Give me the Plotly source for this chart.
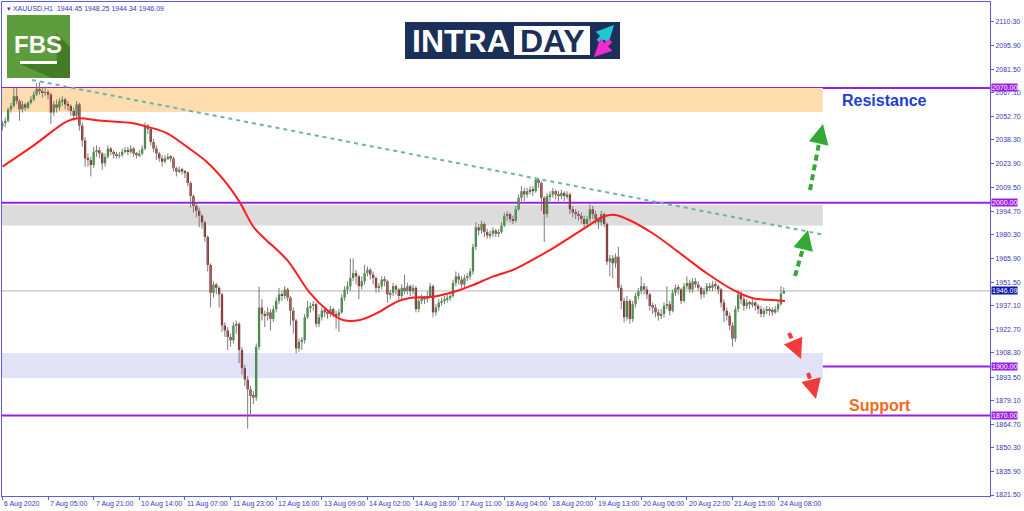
import plotly.graph_objects as go

# hourly XAUUSD candles (bar index 0 = 6 Aug 13:00)
first_open = 2046.5
closes = [
    2048.5, 2050, 2057, 2059, 2065, 2062, 2057, 2060, 2058, 2061,
    2063, 2066, 2069.5, 2068, 2067, 2067.5, 2066, 2055, 2060, 2058,
    2062, 2063, 2060, 2059, 2056, 2053, 2060, 2047, 2038, 2027,
    2026, 2023, 2031, 2032, 2030, 2024, 2028, 2033, 2031, 2029.5,
    2028.5, 2029, 2031, 2032, 2031, 2033, 2030, 2029, 2030, 2033,
    2047, 2045, 2037, 2033, 2030, 2027, 2025, 2027, 2028, 2027,
    2021, 2019, 2020, 2019, 2018.5, 2012, 2004, 1998, 1995, 1992,
    1988, 1979, 1962, 1945, 1950, 1948, 1944, 1925, 1922, 1918,
    1916, 1925, 1926, 1910, 1899, 1892, 1886, 1882, 1881, 1912,
    1936, 1932, 1931, 1933, 1929, 1935, 1940, 1944, 1943, 1947,
    1942, 1934, 1928, 1911, 1915, 1916, 1930, 1936, 1937, 1938,
    1926, 1930, 1934, 1933, 1932, 1935, 1932, 1931, 1933, 1942,
    1947, 1949, 1954, 1957, 1955, 1949, 1952, 1957, 1959, 1956,
    1954, 1948, 1949, 1953, 1952, 1944, 1945, 1949, 1947, 1943,
    1948, 1946, 1949, 1946, 1948, 1935, 1940, 1942, 1941, 1943,
    1949, 1933, 1936, 1939, 1940, 1941, 1942, 1943, 1951, 1955,
    1953, 1950, 1954, 1955, 1958, 1973, 1985, 1983, 1987, 1982,
    1980, 1981, 1983, 1981, 1982, 1986, 1992, 1993, 1990, 1989,
    1996, 2003, 2007, 2005, 2007, 2008, 2007, 2014, 2012, 2003,
    1993, 2004, 2005, 2007, 2005, 2004, 2006, 2004, 2005, 1996,
    1994, 1993, 1992, 1990, 1987, 1990, 1996, 1993, 1990, 1988,
    1993, 1987, 1964, 1966, 1963, 1967, 1948, 1940, 1930, 1940,
    1929, 1938, 1943, 1946, 1949, 1947, 1944, 1937, 1936, 1933,
    1931, 1932, 1937, 1938, 1934, 1945, 1948, 1947, 1940, 1949,
    1951, 1947, 1952, 1950, 1948, 1944, 1946, 1949, 1948, 1950,
    1949, 1947, 1939, 1934, 1931, 1925, 1917, 1935, 1944, 1941,
    1937, 1939, 1938, 1939, 1937, 1935, 1932, 1934, 1935, 1934,
    1933, 1935, 1938, 1944.45, 1946.09,
]
highs = [
    2050, 2052, 2058, 2061, 2070, 2070, 2063, 2062, 2061, 2062,
    2065, 2068, 2073, 2073.5, 2070, 2071, 2069, 2067, 2062, 2063,
    2064, 2065, 2064, 2062, 2060, 2058, 2062, 2061, 2049, 2040,
    2030, 2028, 2034, 2035, 2034, 2031, 2030, 2035, 2034, 2032,
    2031, 2031, 2033, 2034, 2034, 2035, 2034, 2031, 2032, 2035,
    2049, 2048, 2046, 2039, 2035, 2031, 2029, 2029, 2030, 2029,
    2028, 2022, 2022, 2021, 2020, 2019, 2013, 2005, 2000, 1997,
    1993, 1989, 1980, 1963, 1952, 1951, 1949, 1945, 1927, 1924,
    1920, 1927, 1928, 1927, 1912, 1901, 1894, 1888, 1885, 1914,
    1948.7, 1941, 1934, 1936, 1935, 1937, 1942, 1948, 1946, 1949,
    1948, 1943, 1936, 1929, 1917, 1918, 1932, 1940, 1939, 1940,
    1939, 1932, 1936, 1936, 1935, 1937, 1936, 1934, 1935, 1944,
    1949, 1952, 1966, 1966, 1959, 1956, 1955, 1962, 1961, 1960,
    1958, 1955, 1951, 1955, 1955, 1953, 1947, 1951, 1950, 1948,
    1950, 1956, 1951, 1950, 1950, 1949, 1942, 1944, 1943, 1946,
    1951, 1950, 1938, 1941, 1942, 1943, 1944, 1945, 1953, 1958,
    1957, 1955, 1956, 1957, 1960, 1975, 1988, 1987, 1989, 1988,
    1984, 1983, 1985, 1984, 1984, 1988, 1994, 1995, 1994, 1992,
    1998, 2005, 2010, 2009, 2009, 2010, 2010, 2015.5, 2015, 2013,
    2004, 2006, 2007, 2009, 2008, 2007, 2008, 2007, 2007, 2006,
    1998, 1996, 1995, 1994, 1992, 1992, 1999, 1998, 1995, 1991,
    1995, 1994, 1988, 1968, 1968, 1969, 1973, 1950, 1942, 1943,
    1941, 1940, 1945, 1948, 1955, 1951, 1949, 1945, 1939, 1938,
    1935, 1935, 1939, 1949, 1940, 1947, 1950, 1950, 1948, 1951,
    1955, 1953, 1954, 1954, 1952, 1949, 1948, 1951, 1951, 1952,
    1952, 1950, 1948, 1941, 1936, 1933, 1927, 1937, 1947, 1946,
    1943, 1941, 1940, 1941, 1940, 1938, 1937, 1936, 1937, 1936,
    1936, 1937, 1940, 1949, 1948.25,
]
lows = [
    2044, 2046, 2049, 2055, 2058, 2060, 2050, 2055, 2056, 2057,
    2060, 2062, 2065, 2066, 2064, 2065, 2063, 2048, 2053, 2055,
    2056, 2059, 2057, 2056, 2053, 2050, 2051, 2044, 2034, 2022,
    2022, 2016, 2021, 2028, 2027, 2020, 2022, 2027, 2029, 2027,
    2027, 2027, 2028, 2030, 2029, 2030, 2028, 2027, 2028, 2029,
    2032, 2042, 2035, 2031, 2026, 2025, 2022, 2024, 2026, 2025,
    2019, 2016, 2018, 2017, 2015, 2010, 1997, 1994, 1991, 1985,
    1984, 1976, 1958, 1936, 1942, 1944, 1936, 1921, 1918, 1910,
    1912, 1914, 1920, 1902, 1895, 1888, 1862, 1870, 1877, 1879,
    1910, 1928, 1924, 1928, 1922, 1927, 1933, 1938, 1940, 1941,
    1940, 1925, 1920, 1908, 1909, 1910, 1914, 1929, 1933, 1934,
    1924, 1924, 1928, 1930, 1929, 1930, 1930, 1923, 1921, 1932,
    1940, 1944, 1946, 1952, 1950, 1941, 1947, 1950, 1955, 1953,
    1950, 1945, 1945, 1947, 1949, 1939, 1941, 1943, 1944, 1940,
    1941, 1944, 1944, 1943, 1944, 1933, 1933, 1938, 1938, 1939,
    1942, 1930, 1931, 1934, 1937, 1938, 1939, 1940, 1942, 1949,
    1950, 1948, 1948, 1952, 1953, 1956, 1971, 1980, 1981, 1979,
    1978, 1978, 1979, 1979, 1979, 1981, 1985, 1989, 1988, 1987,
    1988, 1995, 2001, 2001, 2003, 2005, 2004, 2006, 2009, 1995,
    1976, 1991, 2001, 2003, 2002, 2001, 2002, 2001, 2002, 1993,
    1991, 1990, 1989, 1987, 1984, 1985, 1988, 1990, 1987, 1984,
    1986, 1985, 1962, 1955, 1954, 1960, 1946, 1935, 1927, 1928,
    1926, 1927, 1936, 1941, 1944, 1944, 1941, 1934, 1932, 1930,
    1928, 1929, 1930, 1935, 1931, 1933, 1943, 1944, 1938, 1939,
    1947, 1945, 1945, 1948, 1946, 1941, 1942, 1944, 1946, 1946,
    1947, 1944, 1936, 1927, 1928, 1922, 1912, 1915, 1933, 1938,
    1934, 1935, 1935, 1936, 1934, 1932, 1930, 1930, 1932, 1931,
    1931, 1932, 1933, 1937, 1944.34,
]

# red moving average, read at sample bars
ma_x = [0, 11, 22.5, 26.6, 34.2, 45.9, 50.6, 57.6, 64.6, 71.6, 78.6, 83.3, 88,
        92, 99.8, 107.9, 113.8, 119.4, 125.4, 131.3, 138.4, 142.9, 151, 160.4,
        165, 172, 179, 181.5, 193, 205, 210.6, 214.8, 219, 228, 237.6, 247,
        256.2, 263.2, 270.2, 274.4]
ma_y = [2022, 2035, 2049.5, 2051.5, 2050.1, 2048.5, 2046.4, 2042.5, 2034.2, 2025,
        2011.8, 2000, 1985.3, 1978, 1965, 1944.7, 1934.5, 1928.4, 1928.4,
        1932.5, 1939.6, 1941.8, 1942.6, 1946.7, 1949.7, 1954.8, 1958.9, 1961,
        1972.1, 1985.4, 1991.4, 1992.5, 1990, 1981.3, 1969.1, 1956.9, 1946.7,
        1941.6, 1940.6, 1940]

trend_x = [10.4, 288.4]
trend_y = [2074.9, 1980.3]

levels = [2070.00, 2000.00, 1900.00, 1870.00]
last_price = 1946.09
zones = [(2055.4, 2070.0, "#fddcae"), (1986.0, 1998.6, "#dcdcdc"), (1893.0, 1908.2, "#e3e3f7")]
zone_end = 287.7

ytick_vals = [2110.30, 2095.90, 2081.50, 2067.10, 2052.70, 2038.30, 2023.90, 2009.50,
              1994.70, 1980.30, 1965.90, 1951.50, 1937.10, 1922.70, 1908.30, 1893.50,
              1879.10, 1864.70, 1850.30, 1835.90, 1821.50]
xtick_vals = list(range(0, 273, 16))
xtick_text = ["6 Aug 2020", "7 Aug 05:00", "7 Aug 21:00", "10 Aug 14:00", "11 Aug 07:00",
              "11 Aug 23:00", "12 Aug 16:00", "13 Aug 09:00", "14 Aug 02:00", "14 Aug 18:00",
              "17 Aug 11:00", "18 Aug 04:00", "18 Aug 20:00", "19 Aug 13:00", "20 Aug 06:00",
              "20 Aug 22:00", "21 Aug 15:00", "24 Aug 08:00"]

W, H = 1024, 511
L, R, T, B = 2, 990, 2, 496
AXC = "#5c5ce0"
TXT = "#3838b8"
FONT = "Liberation Sans"


def px(x):
    return (x - L) / (R - L)


def py(y):
    return (B - y) / (B - T)


n = len(closes)
idx = list(range(n))
opens = [first_open] + closes[:-1]
opens[-1] = 1944.45

fig = go.Figure()

# wicks
wx, wy = [], []
for i in idx:
    wx += [i, i, None]
    wy += [lows[i], highs[i], None]
fig.add_trace(go.Scatter(x=wx, y=wy, mode="lines", line=dict(color="#7c7c7c", width=1),
                         hoverinfo="skip"))

# bodies
body_col = ["#239423" if c >= o else "#8e0b0b" for o, c in zip(opens, closes)]
fig.add_trace(go.Bar(x=idx, y=[c - o for o, c in zip(opens, closes)], base=opens,
                     width=0.8, marker=dict(color=body_col, line_width=0)))

fig.add_trace(go.Scatter(x=ma_x, y=ma_y, mode="lines",
                         line=dict(color="#ff1e1e", width=2, shape="spline")))
fig.add_trace(go.Scatter(x=trend_x, y=trend_y, mode="lines",
                         line=dict(color="#6cb2b2", width=2, dash="4px,4px")))

shapes = []
for lo, hi, col in zones:
    shapes.append(dict(type="rect", xref="x", yref="y", x0=-0.2, x1=zone_end, y0=lo, y1=hi,
                       fillcolor=col, line_width=0, layer="below"))
shapes.append(dict(type="line", xref="paper", yref="y", x0=0, x1=1, y0=last_price, y1=last_price,
                   line=dict(color="#b4b4b4", width=1), layer="below"))
for lv in levels:
    shapes.append(dict(type="line", xref="paper", yref="y", x0=0, x1=1, y0=lv, y1=lv,
                       line=dict(color="#9b1fe3", width=2), layer="below"))

# FBS logo
shapes.append(dict(type="rect", xref="paper", yref="paper", x0=px(7), x1=px(70), y0=py(78), y1=py(15),
                   fillcolor="#5d9c3c", line_width=0))
shade = [(56, 33), (70, 47), (70, 78), (52, 78), (20, 64), (57, 64)]
path = "M " + " L ".join(f"{px(a):.5f},{py(b):.5f}" for a, b in shade) + " Z"
shapes.append(dict(type="path", xref="paper", yref="paper", path=path, fillcolor="#457a29", line_width=0))
shapes.append(dict(type="rect", xref="paper", yref="paper", x0=px(20), x1=px(57), y0=py(64), y1=py(61),
                   fillcolor="white", line_width=0))

# INTRADAY logo
shapes.append(dict(type="rect", xref="paper", yref="paper", x0=px(405), x1=px(620), y0=py(59), y1=py(22),
                   fillcolor="#1c2f59", line_width=0))
shapes.append(dict(type="rect", xref="paper", yref="paper", x0=px(514), x1=px(590), y0=py(55), y1=py(26),
                   fillcolor="white", line_width=0))

# dashed forecast arrows
arrows = [((795, 276), (806, 238), (808, 230), "#35a935"),
          ((810, 190), (821, 133), (823, 124), "#35a935"),
          ((789, 333), (798, 352), (801, 359), "#ef3b3b"),
          ((808, 373), (814, 391), (816, 399), "#ef3b3b")]
ann = []
for (x0, y0), (x1, y1), (hx, hy), col in arrows:
    shapes.append(dict(type="line", xref="paper", yref="paper", x0=px(x0), y0=py(y0), x1=px(x1), y1=py(y1),
                       line=dict(color=col, width=4, dash="6px,4px")))
    ann.append(dict(xref="paper", yref="paper", x=px(hx), y=py(hy), ax=x1 - hx, ay=y1 - hy,
                    showarrow=True, arrowhead=2, arrowsize=1, arrowwidth=4, arrowcolor=col, text=""))


def label(x, y, text, size, color, xanchor="center", bold=False):
    if bold:
        text = f"<b>{text}</b>"
    ann.append(dict(xref="paper", yref="paper", x=px(x), y=py(y), xanchor=xanchor, yanchor="middle",
                    text=text, showarrow=False, font=dict(family=FONT, size=size, color=color)))


label(38, 44, "FBS", 24, "white", bold=True)
label(410, 41, "INTRA", 32, "white", xanchor="left", bold=True)
label(552, 41, "DAY", 32, "#1c2f59", bold=True)
ann.append(dict(xref="paper", yref="paper", x=px(614), y=py(25), ax=-17, ay=18, text="", showarrow=True,
                arrowhead=2, arrowsize=0.7, arrowwidth=5, arrowcolor="#1ec8d0"))
ann.append(dict(xref="paper", yref="paper", x=px(594), y=py(57), ax=18, ay=-18, text="", showarrow=True,
                arrowhead=2, arrowsize=0.7, arrowwidth=5, arrowcolor="#ee2bd2"))

label(5, 8, "▾ XAUUSD,H1  1944.45 1948.25 1944.34 1946.09", 7, TXT, xanchor="left")
label(884, 101, "Resistance", 16, "#1d3fd0", bold=True)
label(880, 405, "Support", 16, "#f26a22", bold=True)

# right side price tags
for lv in levels:
    ann.append(dict(xref="paper", yref="y", x=1, y=lv, xanchor="left", yanchor="middle", xshift=1,
                    text=f"{lv:.2f}", showarrow=False, bgcolor="#9b1fe3", borderpad=0,
                    font=dict(family=FONT, size=7, color="white")))
ann.append(dict(xref="paper", yref="y", x=1, y=last_price, xanchor="left", yanchor="middle", xshift=1,
                text=f"{last_price:.2f}", showarrow=False, bgcolor="#0c1aa8", borderpad=0,
                font=dict(family=FONT, size=7, color="white")))

# date labels sit to the right of their ticks
for v, t in zip(xtick_vals, xtick_text):
    ann.append(dict(xref="x", yref="paper", x=v, y=0, xanchor="left", yanchor="top", yshift=-2,
                    text=t, showarrow=False, font=dict(family=FONT, size=7, color=TXT)))

fig.update_layout(
    width=W, height=H, margin=dict(l=L, r=W - R, t=T, b=H - B),
    paper_bgcolor="white", plot_bgcolor="white", showlegend=False, hovermode=False,
    shapes=shapes, annotations=ann,
    xaxis=dict(range=[-0.14, 346.3], showgrid=False, zeroline=False, showline=True, mirror=True,
               linecolor=AXC, linewidth=1, ticks="outside", ticklen=3, tickcolor=AXC,
               tickvals=xtick_vals, showticklabels=False),
    yaxis=dict(range=[1820.9, 2122.5], side="right", showgrid=False, zeroline=False, showline=True,
               mirror=True, linecolor=AXC, linewidth=1, ticks="outside", ticklen=3, tickcolor=AXC,
               tickvals=ytick_vals, ticktext=[f"{v:.2f}" for v in ytick_vals],
               tickfont=dict(family=FONT, size=7, color=TXT)),
)

# page body has an 8px default margin; drop it so the figure fills the window
fig.write_html("out.html", config={"displayModeBar": False},
               post_script="document.body.style.margin='0';")
